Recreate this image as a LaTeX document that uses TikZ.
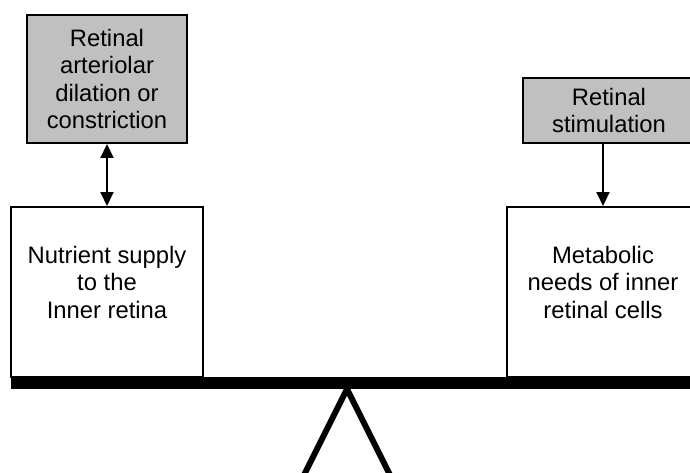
\documentclass[tikz,border=0pt]{standalone}
\usepackage{xcolor}
\usepackage{tikz}
\usepackage{fontspec}
\setmainfont{Liberation Sans}
\definecolor{boxgray}{RGB}{192, 192, 192}
\usetikzlibrary{arrows.meta, positioning}

\begin{document}
\begin{tikzpicture}[
        x=1pt, y=-1pt,
        >={Triangle[length=14pt, width=13pt]},
        every node/.style={font=\fontsize{23.8}{27.5}\selectfont},
        control/.style={rectangle, draw=black, fill=boxgray, line width=2pt, align=center, inner sep=0pt},
        pan/.style={rectangle, draw=black, fill=white, line width=2pt, inner sep=0pt, minimum width=192pt, minimum height=170pt},
        pantext/.style={align=center, inner sep=0pt},
        arrow/.style={line width=2pt, ->},
        beam/.style={fill=black},
        leg/.style={line width=6pt}
    ]

        \useasboundingbox (0,0) rectangle (690,473);
        \clip (0,0) rectangle (690,473);

        % Fulcrum and beam
        \draw[leg] (301,481) -- (347,389) -- (393,481);
        \fill[beam] (11,377) rectangle (700,389);

        % Scale pans
        \node[pan] (supply) at (107,292) {};
        \node[pan] (needs) at (603,292) {};
        \node[pantext, below=40pt of supply.north] (supplytext) {Nutrient supply\\to the\\Inner retina};
        \node[pantext, below=40pt of needs.north] (needstext) {Metabolic\\needs of inner\\retinal cells};

        % Control boxes
        \node[control, minimum width=160pt, minimum height=128pt] (dilation) at (107,79) {Retinal\\arteriolar\\dilation or\\constriction};
        \node[control, minimum width=172pt, minimum height=65pt] (stim) at (609,110.5) {Retinal\\stimulation};

        % Arrows
        \draw[arrow, <->] (dilation) -- (supply);
        \draw[arrow] (stim.south -| needs.north) -- (needs.north);

    \end{tikzpicture}
\end{document}
